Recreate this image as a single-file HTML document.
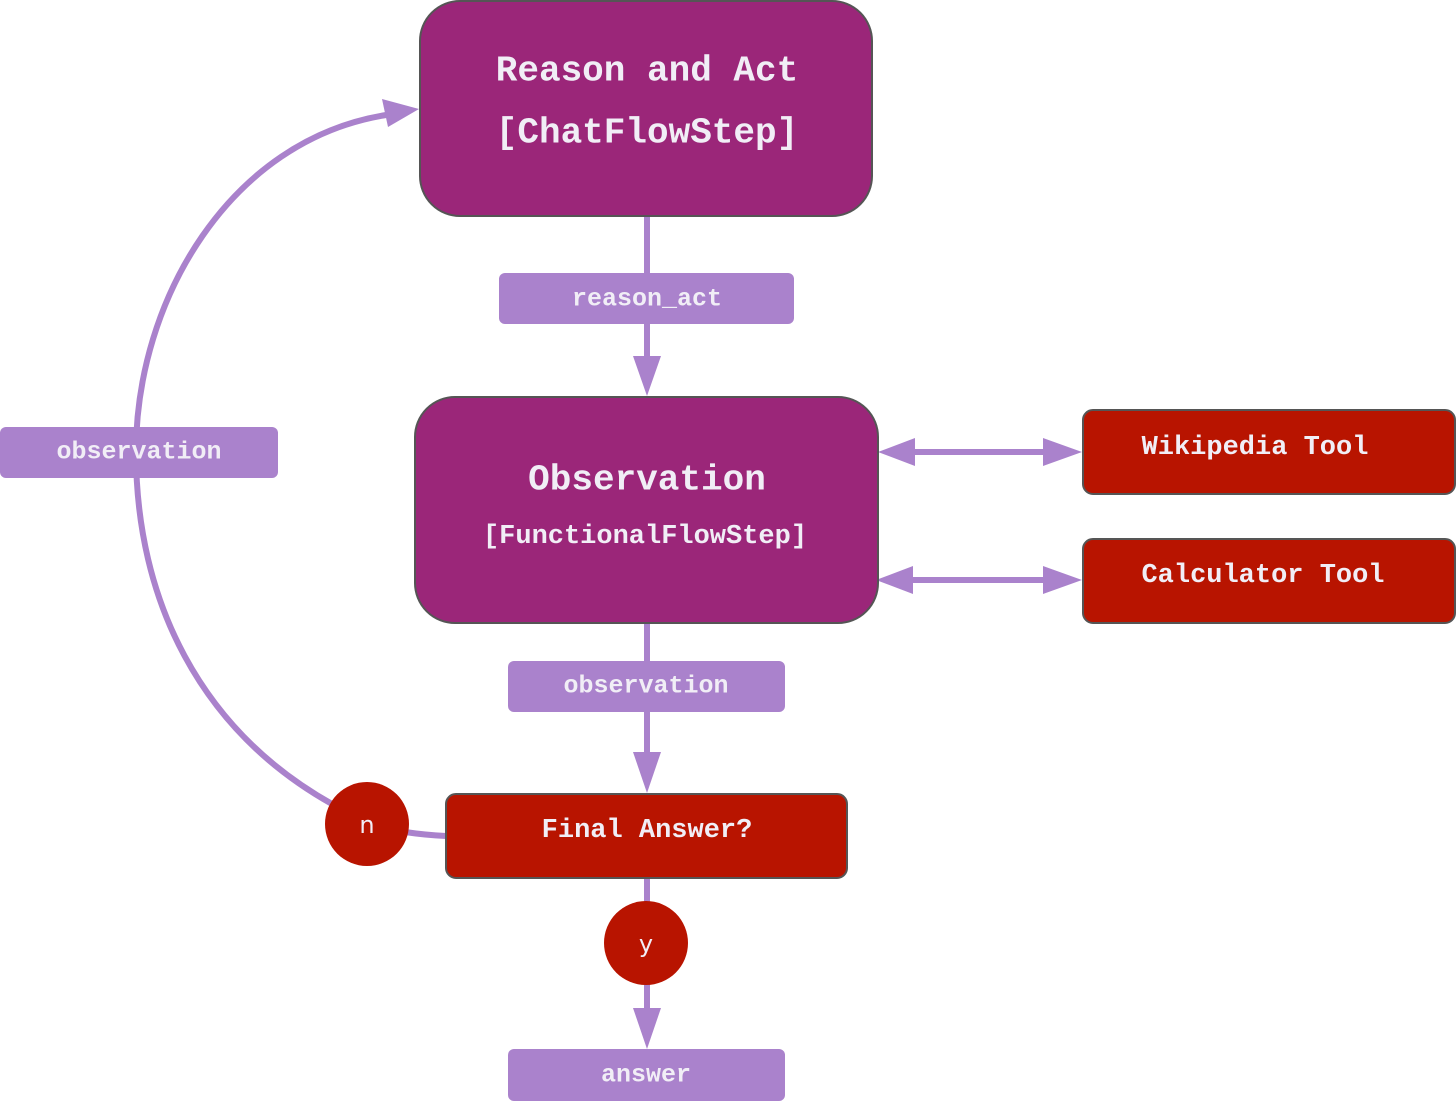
<!DOCTYPE html>
<html><head><meta charset="utf-8"><style>
html,body{margin:0;padding:0;background:#fff;}
svg{display:block;}
text{font-family:"Liberation Mono",monospace;font-weight:bold;fill:#f1eef6;text-anchor:middle;dominant-baseline:central;}
</style></head><body>
<svg width="1456" height="1101" viewBox="0 0 1456 1101" xmlns="http://www.w3.org/2000/svg">
<g stroke="#aa82cc" stroke-width="6" fill="none">
<line x1="647" y1="216" x2="647" y2="362"/>
<line x1="647" y1="623" x2="647" y2="760"/>
<line x1="647" y1="878" x2="647" y2="1015"/>
<line x1="905" y1="452" x2="1055" y2="452"/>
<line x1="905" y1="580" x2="1055" y2="580"/>
<path d="M 332 804 C 200 730, 136 600, 136 452 C 136 300, 230 140, 386 115"/>
<path d="M 405 832 Q 425 835 446 836"/>
</g>
<g fill="#aa82cc">
<polygon points="633,356 661,356 647,396"/>
<polygon points="633,752 661,752 647,793"/>
<polygon points="633,1008 661,1008 647,1049"/>
<polygon points="878,452 915,438 915,466"/>
<polygon points="1082,452 1043,438 1043,466"/>
<polygon points="876,580 913,566 913,594"/>
<polygon points="1082,580 1043,566 1043,594"/>
<polygon points="419,109 382,99 388,127"/>
</g>
<rect x="420" y="1" width="452" height="215" rx="40" fill="#9b2679" stroke="#555" stroke-width="2"/>
<text x="647" y="71" font-size="36">Reason and Act</text>
<text x="647" y="133" font-size="36">[ChatFlowStep]</text>
<rect x="415" y="397" width="463" height="226" rx="40" fill="#9b2679" stroke="#555" stroke-width="2"/>
<text x="647" y="480" font-size="36">Observation</text>
<text x="645" y="537" font-size="27">[FunctionalFlowStep]</text>
<rect x="1083" y="410" width="372" height="84" rx="10" fill="#b81400" stroke="#555" stroke-width="2"/>
<text x="1255" y="448" font-size="27">Wikipedia Tool</text>
<rect x="1083" y="539" width="372" height="84" rx="10" fill="#b81400" stroke="#555" stroke-width="2"/>
<text x="1263" y="576" font-size="27">Calculator Tool</text>
<rect x="446" y="794" width="401" height="84" rx="10" fill="#b81400" stroke="#555" stroke-width="2"/>
<text x="647" y="831" font-size="27">Final Answer?</text>
<g fill="#aa82cc">
<rect x="499" y="273" width="295" height="51" rx="6"/>
<rect x="0" y="427" width="278" height="51" rx="6"/>
<rect x="508" y="661" width="277" height="51" rx="6"/>
<rect x="508" y="1049" width="277" height="52" rx="6"/>
</g>
<text x="647" y="299" font-size="25">reason_act</text>
<text x="139" y="452" font-size="25">observation</text>
<text x="646" y="686" font-size="25">observation</text>
<text x="646" y="1075" font-size="25">answer</text>
<circle cx="367" cy="824" r="42" fill="#b81400"/>
<circle cx="646" cy="943" r="42" fill="#b81400"/>
<text x="367" y="825" font-size="24" style="font-family:'DejaVu Sans',sans-serif;font-weight:normal">n</text>
<text x="646" y="944" font-size="24" style="font-family:'DejaVu Sans',sans-serif;font-weight:normal">y</text>
</svg>
</body></html>
